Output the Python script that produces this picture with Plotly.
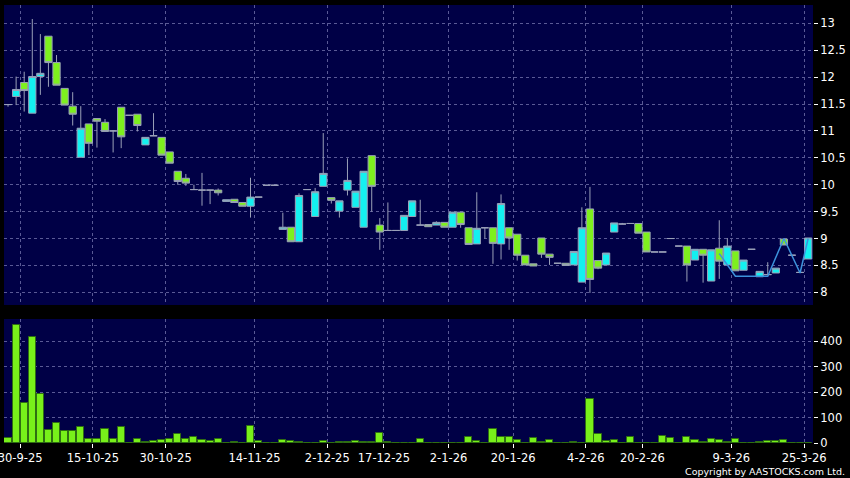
import plotly.graph_objects as go

# one entry per trading session shown on the chart (oldest first)
opens = [11.49, 11.64, 11.90, 11.33, 12.01, 12.76, 12.27, 11.79, 11.46, 10.51,
         11.13, 11.23, 11.16, 11.00, 11.44, 11.29, 11.31, 10.74, 10.91, 10.88,
         10.61, 10.25, 10.12, 9.91, 9.90, 9.90, 9.90, 9.69, 9.73, 9.67,
         9.60, 9.77, 9.99, 9.99, 9.17, 9.21, 8.94, 9.91, 9.41, 9.97,
         9.76, 9.51, 9.90, 9.58, 9.21, 10.54, 9.25, 9.15, 9.15, 9.15,
         9.41, 9.25, 9.26, 9.25, 9.30, 9.21, 9.49, 9.20, 8.90, 9.20,
         9.20, 8.90, 9.20, 9.08, 8.69, 8.53, 9.01, 8.71, 8.54, 8.54,
         8.51, 8.19, 9.55, 8.59, 8.51, 9.12, 9.27, 9.28, 9.28, 9.12,
         8.75, 8.75, 9.00, 8.86, 8.86, 8.60, 8.80, 8.21, 8.82, 8.51,
         8.77, 8.41, 8.80, 8.29, 8.33, 8.36, 8.99, 8.69, 8.37, 8.62]
highs = [11.49, 12.01, 12.10, 13.08, 12.80, 12.76, 12.41, 11.79, 11.72, 11.46,
         11.13, 11.23, 11.22, 11.00, 11.44, 11.29, 11.31, 10.88, 11.33, 10.88,
         10.61, 10.25, 10.20, 10.00, 10.22, 9.90, 9.93, 9.72, 9.73, 9.67,
         10.13, 9.77, 9.99, 9.99, 9.48, 9.21, 9.84, 9.91, 9.94, 10.96,
         9.76, 9.70, 10.49, 9.88, 10.25, 10.54, 9.38, 9.67, 9.15, 9.43,
         9.70, 9.72, 9.26, 9.32, 9.30, 9.49, 9.49, 9.20, 9.86, 9.20,
         9.20, 9.82, 9.20, 9.08, 8.69, 8.53, 9.01, 8.71, 8.54, 8.54,
         8.76, 9.58, 9.96, 8.59, 8.73, 9.29, 9.29, 9.28, 9.28, 9.12,
         8.75, 8.75, 9.00, 8.86, 8.86, 8.80, 8.80, 8.79, 9.34, 9.01,
         8.77, 8.60, 8.80, 8.39, 8.56, 8.45, 8.99, 8.69, 8.37, 9.01]
lows = [11.45, 11.48, 11.36, 11.33, 11.67, 11.82, 11.85, 11.48, 11.10, 10.51,
        10.55, 10.69, 10.99, 10.60, 10.68, 11.29, 10.99, 10.74, 10.91, 10.55,
        10.40, 10.00, 9.98, 9.91, 9.61, 9.64, 9.80, 9.69, 9.67, 9.60,
        9.39, 9.77, 9.99, 9.99, 9.17, 8.94, 8.94, 9.91, 9.41, 9.97,
        9.65, 9.39, 9.80, 9.58, 9.21, 9.50, 8.79, 9.15, 9.15, 9.15,
        9.41, 9.25, 9.22, 9.25, 9.21, 9.21, 9.20, 8.89, 8.90, 9.00,
        8.53, 8.61, 8.79, 8.59, 8.51, 8.49, 8.64, 8.51, 8.54, 8.50,
        8.51, 8.19, 7.99, 8.43, 8.51, 9.12, 9.27, 9.28, 9.10, 8.75,
        8.75, 8.75, 9.00, 8.86, 8.20, 8.60, 8.18, 8.21, 8.25, 8.51,
        8.40, 8.41, 8.80, 8.29, 8.33, 8.36, 8.88, 8.69, 8.37, 8.62]
closes = [11.49, 11.77, 11.75, 12.01, 12.07, 12.27, 11.85, 11.48, 11.31, 11.05,
          10.77, 11.18, 10.99, 11.00, 10.89, 11.29, 11.10, 10.88, 10.91, 10.55,
          10.40, 10.06, 10.03, 9.91, 9.90, 9.90, 9.85, 9.72, 9.67, 9.60,
          9.77, 9.77, 9.99, 9.99, 9.21, 8.94, 9.80, 9.91, 9.87, 10.21,
          9.71, 9.70, 10.08, 9.88, 10.25, 9.97, 9.12, 9.15, 9.15, 9.43,
          9.70, 9.25, 9.22, 9.30, 9.21, 9.49, 9.26, 8.89, 9.19, 9.20,
          8.91, 9.65, 9.01, 8.69, 8.51, 8.49, 8.71, 8.65, 8.54, 8.50,
          8.76, 9.20, 8.24, 8.45, 8.73, 9.29, 9.27, 9.28, 9.10, 8.75,
          8.75, 8.75, 9.00, 8.86, 8.51, 8.80, 8.69, 8.79, 8.58, 8.86,
          8.40, 8.60, 8.80, 8.39, 8.33, 8.45, 8.88, 8.69, 8.37, 9.01]
volumes = [18, 463, 156, 417, 192, 52, 78, 48, 48, 64,
           16, 14, 54, 14, 61, 0, 14, 3, 8, 10,
           17, 37, 17, 25, 12, 8, 14, 1, 4, 1,
           65, 8, 0, 0, 13, 8, 3, 0, 0, 8,
           1, 4, 4, 6, 4, 4, 38, 3, 0, 0,
           0, 16, 1, 1, 1, 0, 1, 25, 8, 0,
           55, 24, 24, 12, 1, 21, 4, 10, 0, 1,
           5, 1, 174, 35, 8, 10, 0, 22, 0, 0,
           0, 29, 21, 0, 22, 12, 4, 16, 12, 3,
           14, 1, 0, 3, 6, 8, 10, 0, 0, 1]

# overlay line drawn over the last sessions (session number, price)
line_sessions = [88, 90, 94, 96, 98, 99]
line_prices = [8.72, 8.30, 8.30, 9.00, 8.36, 9.00]

# date labels and the session each label starts at
tick_sessions = [2, 11, 20, 31, 40, 47, 55, 63, 72, 79, 90, 99]
tick_labels = ['30-9-25', '15-10-25', '30-10-25', '14-11-25', '2-12-25', '17-12-25',
               '2-1-26', '20-1-26', '4-2-26', '20-2-26', '9-3-26', '25-3-26']

sessions = list(range(len(closes)))
tick_pos = [s - 0.5 for s in tick_sessions]

navy = '#000046'
grid = '#5a5a96'
wick = '#9aa0b8'

fig = go.Figure()

fig.add_trace(go.Candlestick(
    x=sessions, open=opens, high=highs, low=lows, close=closes,
    increasing=dict(fillcolor='#14f0f0', line=dict(color=wick, width=1)),
    decreasing=dict(fillcolor='#7ef01e', line=dict(color=wick, width=1)),
    whiskerwidth=0,
    showlegend=False,
    xaxis='x', yaxis='y'
))

fig.add_trace(go.Scatter(
    x=line_sessions, y=line_prices,
    mode='lines',
    line=dict(color='#3c92dc', width=1.5),
    showlegend=False,
    xaxis='x', yaxis='y'
))

fig.add_trace(go.Bar(
    x=sessions, y=volumes,
    width=0.88,
    marker=dict(color='#78f01a', line=dict(color='#2f6e12', width=1)),
    showlegend=False,
    xaxis='x2', yaxis='y2'
))

axis_font = dict(family='DejaVu Sans', size=11.5, color='white')
grid_style = dict(showgrid=True, gridcolor=grid, griddash='3px,3px', gridwidth=1,
                  zeroline=False, showline=False, automargin=False)

fig.update_layout(
    width=850, height=478,
    margin=dict(l=4, r=37, t=5, b=35, autoexpand=False),
    paper_bgcolor='black',
    plot_bgcolor=navy,
    boxgap=0.1, boxgroupgap=0,
    bargap=0,
    font=axis_font,
    xaxis=dict(
        domain=[0, 1], anchor='y', range=[-0.5, 99.6],
        tickvals=tick_pos, showticklabels=False, ticks='',
        rangeslider=dict(visible=False), **grid_style
    ),
    yaxis=dict(
        domain=[0.3151, 1], anchor='x', range=[7.765, 13.34],
        side='right', tickvals=[8, 8.5, 9, 9.5, 10, 10.5, 11, 11.5, 12, 12.5, 13],
        ticks='outside', ticklen=4, tickcolor='white',
        tickfont=axis_font, **grid_style
    ),
    xaxis2=dict(
        domain=[0, 1], anchor='y2', range=[-0.5, 99.6],
        tickvals=tick_pos, ticktext=tick_labels,
        ticks='outside', ticklen=4, tickcolor='white',
        ticklabeloverflow='allow', tickangle=0,
        tickfont=axis_font, **grid_style
    ),
    yaxis2=dict(
        domain=[0, 0.2831], anchor='x2', range=[0, 487],
        side='right', tickvals=[0, 100, 200, 300, 400],
        ticks='outside', ticklen=4, tickcolor='white',
        tickfont=axis_font, **grid_style
    ),
    annotations=[dict(
        text='Copyright by AASTOCKS.com Ltd.',
        xref='paper', yref='paper', x=1.042, y=-0.064,
        xanchor='right', yanchor='middle', showarrow=False,
        font=dict(family='DejaVu Sans', size=9.5, color='white')
    )]
)

# page body has an 8px default margin; drop it so the chart sits at the corner
fig.write_html('out.html', config={'displayModeBar': False},
               post_script="document.body.style.margin='0';")
